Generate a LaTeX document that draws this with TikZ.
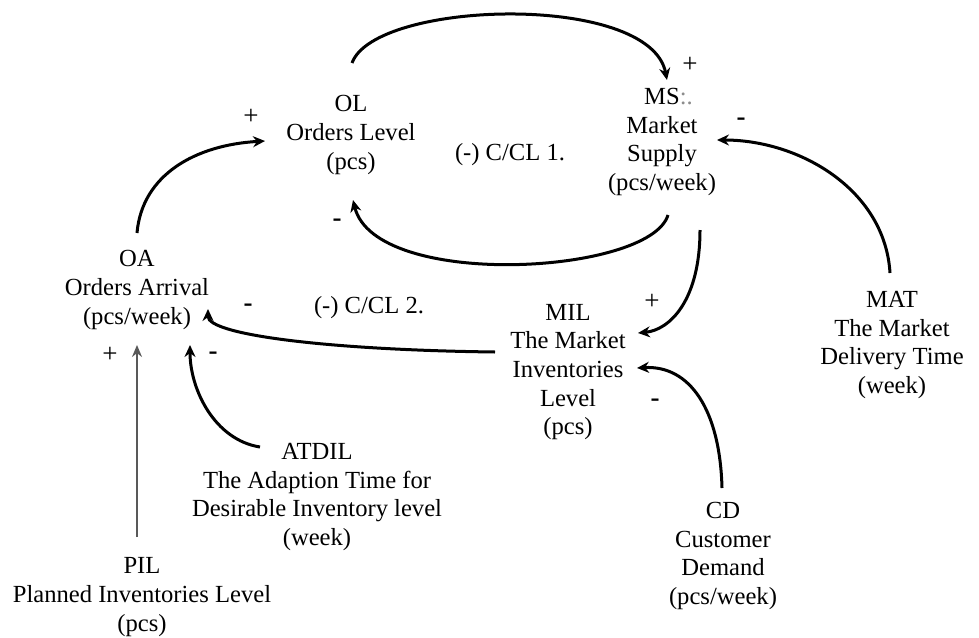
\documentclass[tikz,border=0pt]{standalone}
\usepackage{fontspec}
\setmainfont{Liberation Serif}
\usetikzlibrary{arrows.meta,calc}
\pgfdeclarelayer{bg}
\pgfsetlayers{bg,main}

\tikzset{
        var/.style={align=center, inner sep=1pt, font=\fontsize{12.3pt}{14.3pt}\selectfont},
        sign/.style={inner sep=0pt, font=\fontsize{13.5pt}{15pt}\selectfont},
        link/.style={line width=1.5pt, -{Stealth[length=6pt,width=5.5pt]}},
        thin link/.style={line width=0.8pt, black!65, -{Stealth[length=6pt,width=5pt]}}
}

\begin{document}
\begin{tikzpicture}[x=0.5pt, y=-0.5pt]
        \useasboundingbox (0,0) rectangle (979,637);
        % variables
        \node (OL) [var] at (351,135) {OL\\Orders Level\\(pcs)};
        \node (MS) [var] at (662,142) {MS\rlap{\color{black!45}:.}\\Market\\Supply\\(pcs/week)};
        \node (OA) [var] at (137,290) {OA\\Orders Arrival\\(pcs/week)};
        \node (MIL) [var] at (568,372) {MIL\\The Market\\Inventories\\Level\\(pcs)};
        \node (MAT) [var] at (892,345) {MAT\\The Market\\Delivery Time\\(week)};
        \node (CD) [var] at (723,556) {CD\\Customer\\Demand\\(pcs/week)};
        \node (ATDIL) [var] at (317,497) {ATDIL\\The Adaption Time for\\Desirable Inventory level\\(week)};
        \node (PIL) [var, inner sep=0pt] at (142,597) {PIL\\Planned Inventories Level\\(pcs)};
        % loops
        \node (cl1) [var] at (510,155) {(-) C/CL 1.};
        \node (cl2) [var] at (369,308) {(-) C/CL 2.};
        % polarities
        \node (s1) [sign] at (251,117) {+};
        \node (s2) [sign] at (690,65) {+};
        \node (s3) [sign] at (337,223) {\textbf{-}};
        \node (s4) [sign] at (741,122) {\textbf{-}};
        \node (s5) [sign] at (652,302) {+};
        \node (s6) [sign] at (655,403) {\textbf{-}};
        \node (s7) [sign] at (248,308) {\textbf{-}};
        \node (s8) [sign] at (213,356) {\textbf{-}};
        \node (s9) [sign] at (110,355) {+};
        \begin{pgfonlayer}{bg}
                \draw [link] ($(OA)+(0,-57)$) .. controls (142,175) and (195,145) .. ($(OL)+(-86,6)$);
                \draw [link] ($(OL)+(1,-72)$) .. controls (375,0) and (650,-8) .. ($(MS)+(5,-62)$);
                \draw [link] ($(MS)+(6,73)$) .. controls (650,275) and (375,290) .. ($(OL)+(2,65)$);
                \draw [link] ($(MAT)+(-2,-72)$) .. controls (885,190) and (800,140) .. ($(MS)+(55,-2)$);
                \draw [link] ($(MS)+(38,88)$) .. controls (700,300) and (670,330) .. ($(MIL)+(70,-39)$);
                \draw [link] ($(CD)+(-1,-68)$) .. controls (720,410) and (690,365) .. ($(MIL)+(69,-4)$);
                \draw [link] ($(MIL)+(-73,-20)$) .. controls (330,350) and (208,335) .. ($(OA)+(71,19)$);
                \draw [link] ($(ATDIL)+(-57,-50)$) .. controls (215,440) and (190,390) .. ($(OA)+(53,55)$);
                \draw [thin link] ($(PIL)+(-5,-60)$) -- ($(OA)+(0,55)$);
        \end{pgfonlayer}
\end{tikzpicture}
\end{document}
